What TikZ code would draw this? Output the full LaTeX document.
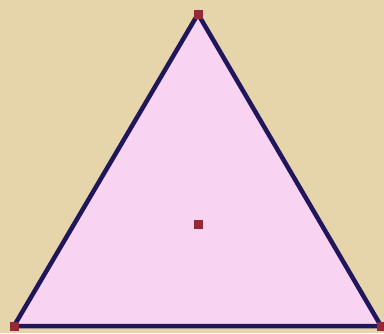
\documentclass[tikz,border=0pt]{standalone}
\definecolor{bg}{RGB}{230,212,170}
\definecolor{fillpink}{RGB}{248,212,242}
\definecolor{edge}{RGB}{32,22,92}
\definecolor{dotred}{RGB}{150,40,55}
\tikzset{vdot/.style={fill=dotred,draw=none,minimum size=9pt,inner sep=0pt,rectangle}}
\begin{document}
\begin{tikzpicture}[x=1pt,y=-1pt]
\fill[bg] (0,0) rectangle (384,333);
\useasboundingbox (0,0) rectangle (384,333);
\coordinate (A) at (198,14);
\coordinate (B) at (14,326);
\coordinate (C) at (381,326);
\fill[fillpink] (A) -- (B) -- (C) -- cycle;
\draw[edge,line width=4.5pt,line join=miter] (A) -- (B) -- (C) -- cycle;
\node[vdot] (a) at (A) {};
\node[vdot] (b) at (B) {};
\node[vdot] (c) at (C) {};
\node[vdot] (g) at (198,224) {};
\end{tikzpicture}
\end{document}
